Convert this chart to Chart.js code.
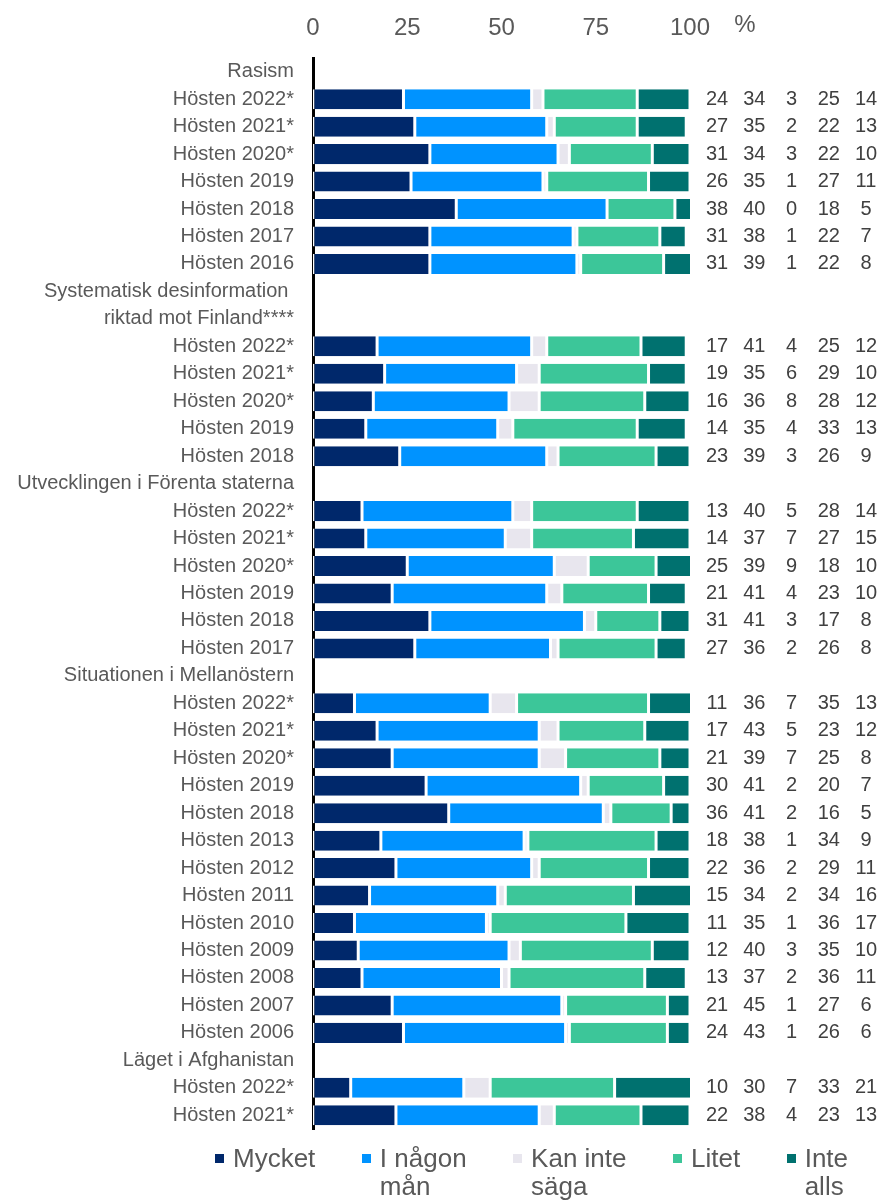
<!DOCTYPE html>
<html lang="sv">
<head>
<meta charset="utf-8">
<title>Oro för olika frågor</title>
<script src="https://cdn.jsdelivr.net/npm/chart.js@4/dist/chart.umd.min.js"></script>
<style>
  html, body { margin: 0; padding: 0; background: #fff; }
  #wrap { position: relative; width: 883px; height: 1200px; }
  #legend {
    position: absolute; left: 215px; top: 1144px;
    display: flex; gap: 46.5px;
    font: 26px "Liberation Sans", Arial, sans-serif;
    line-height: 28px; color: #595959;
  }
  #legend .item { display: flex; align-items: flex-start; }
  #legend .box { width: 9px; height: 9px; margin: 10px 9px 0 0; flex: none; }
</style>
</head>
<body>
<div id="wrap">
  <canvas id="chart" width="883" height="1200"></canvas>
  <div id="legend"></div>
</div>
<script>
// rows: group headers have no values
var categories = [
    'Rasism',
    'Hösten 2022*', 'Hösten 2021*', 'Hösten 2020*', 'Hösten 2019', 'Hösten 2018', 'Hösten 2017', 'Hösten 2016',
    'Systematisk desinformation ', 'riktad mot Finland****',
    'Hösten 2022*', 'Hösten 2021*', 'Hösten 2020*', 'Hösten 2019', 'Hösten 2018',
    'Utvecklingen i Förenta staterna',
    'Hösten 2022*', 'Hösten 2021*', 'Hösten 2020*', 'Hösten 2019', 'Hösten 2018', 'Hösten 2017',
    'Situationen i Mellanöstern',
    'Hösten 2022*', 'Hösten 2021*', 'Hösten 2020*', 'Hösten 2019', 'Hösten 2018', 'Hösten 2013',
    'Hösten 2012', 'Hösten 2011', 'Hösten 2010', 'Hösten 2009', 'Hösten 2008', 'Hösten 2007', 'Hösten 2006',
    'Läget i Afghanistan',
    'Hösten 2022*', 'Hösten 2021*'
];

var mycket   = [null, 24, 27, 31, 26, 38, 31, 31, null, null, 17, 19, 16, 14, 23, null, 13, 14, 25, 21, 31, 27, null, 11, 17, 21, 30, 36, 18, 22, 15, 11, 12, 13, 21, 24, null, 10, 22];
var iNagonMan = [null, 34, 35, 34, 35, 40, 38, 39, null, null, 41, 35, 36, 35, 39, null, 40, 37, 39, 41, 41, 36, null, 36, 43, 39, 41, 41, 38, 36, 34, 35, 40, 37, 45, 43, null, 30, 38];
var kanInteSaga = [null, 3, 2, 3, 1, 0, 1, 1, null, null, 4, 6, 8, 4, 3, null, 5, 7, 9, 4, 3, 2, null, 7, 5, 7, 2, 2, 1, 2, 2, 1, 3, 2, 1, 1, null, 7, 4];
var litet    = [null, 25, 22, 22, 27, 18, 22, 22, null, null, 25, 29, 28, 33, 26, null, 28, 27, 18, 23, 17, 26, null, 35, 23, 25, 20, 16, 34, 29, 34, 36, 35, 36, 27, 26, null, 33, 23];
var inteAlls = [null, 14, 13, 10, 11, 5, 7, 8, null, null, 12, 10, 12, 13, 9, null, 14, 15, 10, 10, 8, 8, null, 13, 12, 8, 7, 5, 9, 11, 16, 17, 10, 11, 6, 6, null, 21, 13];

var xTicks = [0, 25, 50, 75, 100];

var seriesNames = [['Mycket'], ['I någon', 'mån'], ['Kan inte', 'säga'], ['Litet'], ['Inte', 'alls']];
var seriesColors = ['#00286b', '#0093ff', '#e8e6ee', '#3cc699', '#00716f'];

var FONT = '"Liberation Sans", Arial, sans-serif';

// numbers to the right of the bars, one column per series
var valueColumns = {
    id: 'valueColumns',
    afterDatasetsDraw: function (chart) {
        var ctx = chart.ctx, area = chart.chartArea, y = chart.scales.y;
        ctx.save();
        ctx.font = '20px ' + FONT;
        ctx.fillStyle = '#404040';
        ctx.textAlign = 'center';
        ctx.textBaseline = 'middle';
        chart.data.datasets.forEach(function (ds, i) {
            var x = area.right + 27 + i * 37.25;
            ds.data.forEach(function (v, j) {
                if (v === null) return;
                ctx.fillText(String(v), x, y.getPixelForValue(j));
            });
        });
        ctx.font = '24px ' + FONT;
        ctx.fillStyle = '#595959';
        ctx.fillText('%', area.right + 55, 25);
        ctx.restore();
    }
};

var seriesData = [mycket, iNagonMan, kanInteSaga, litet, inteAlls];

var ctx = document.getElementById('chart').getContext('2d');
var chart = new Chart(ctx, {
    type: 'bar',
    data: {
        labels: categories,
        datasets: seriesData.map(function (d, i) {
            return {
                label: seriesNames[i].join(' '),
                data: d,
                backgroundColor: seriesColors[i],
                borderColor: '#ffffff',
                borderWidth: { left: 1.5, right: 1.5, top: 0, bottom: 0 },
                borderSkipped: false,
                barPercentage: 0.73,
                categoryPercentage: 1
            };
        })
    },
    options: {
        indexAxis: 'y',
        responsive: false,
        animation: false,
        devicePixelRatio: 1,
        layout: { padding: { left: 0, right: 193, top: 0, bottom: 71 } },
        plugins: {
            legend: { display: false },
            tooltip: { enabled: false }
        },
        scales: {
            x: {
                position: 'top',
                stacked: true,
                min: 0,
                max: 100,
                afterBuildTicks: function (scale) {
                    scale.ticks = xTicks.map(function (v) { return { value: v }; });
                },
                afterFit: function (scale) { scale.height = 58; },
                grid: { display: false, drawTicks: false },
                border: { display: false },
                ticks: {
                    padding: 15,
                    color: '#595959',
                    font: { family: FONT, size: 24 }
                }
            },
            y: {
                stacked: true,
                afterFit: function (scale) { scale.width = 313; },
                grid: { display: false, drawTicks: false },
                border: { display: true, color: '#000000', width: 3 },
                ticks: {
                    padding: 19,
                    autoSkip: false,
                    color: '#595959',
                    font: { family: FONT, size: 20 }
                }
            }
        }
    },
    plugins: [valueColumns]
});

// legend under the chart
var legendEl = document.getElementById('legend');
seriesNames.forEach(function (lines, i) {
    var item = document.createElement('div');
    item.className = 'item';
    var box = document.createElement('span');
    box.className = 'box';
    box.style.background = seriesColors[i];
    var txt = document.createElement('span');
    txt.innerHTML = lines.join('<br>');
    item.appendChild(box);
    item.appendChild(txt);
    legendEl.appendChild(item);
});
</script>
</body>
</html>
